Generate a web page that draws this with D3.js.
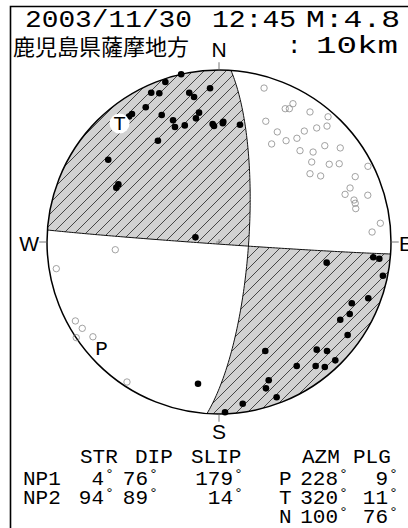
<!DOCTYPE html>
<html><head><meta charset="utf-8">
<script src="https://cdn.jsdelivr.net/npm/d3@7"></script>
<style>html,body{margin:0;padding:0;background:#fff;}svg{display:block;}</style>
</head><body>
<svg id="c" width="408" height="528"></svg>
<script>
// ---------- data ----------
const headDate = "2003/11/30";
const headTime = "12:45";
const headMag = "M:4.8";
const region = "鹿児島県薩摩地方";
const depthText = "10km";
const compass = ["N", "E", "S", "W"];
const compassAz = [0, 90, 180, 270];
// nodal planes: [strike, dip, slip]
const planeNames = ["NP1", "NP2"];
const planes = [[4, 76, 179], [94, 89, 14]];
// principal axes: [azimuth, plunge]
const axisNames = ["P", "T", "N"];
const axes = [[228, 9], [320, 11], [100, 76]];
const paramHeads = ["STR", "DIP", "SLIP"];
const axisHeads = ["AZM", "PLG"];
// polarity observations in projection coordinates (east, north), unit circle
const upPoints = [
  [-0.22,0.975],[-0.312,0.930],[-0.394,0.868],[-0.347,0.865],[-0.173,0.868],[-0.145,0.843],
  [-0.052,0.894],[-0.426,0.783],[-0.506,0.744],[-0.523,0.730],[-0.333,0.738],[-0.116,0.752],
  [-0.134,0.719],[-0.267,0.708],[-0.256,0.669],[-0.199,0.678],[-0.037,0.686],[-0.029,0.674],
  [0.025,0.699],[0.022,0.690],[0.122,0.682],[-0.355,0.589],[-0.644,0.478],[-0.585,0.335],
  [-0.597,0.316],[-0.137,0.027],
  [0.626,-0.120],[0.897,-0.089],[0.932,-0.097],[0.953,-0.196],[0.868,-0.327],[0.772,-0.356],
  [0.760,-0.419],[0.705,-0.452],[0.748,-0.541],[0.568,-0.626],[0.628,-0.634],[0.269,-0.634],
  [0.676,-0.688],[0.452,-0.721],[0.562,-0.721],[0.615,-0.727],[0.289,-0.804],[0.273,-0.851],
  [0.335,-0.903],[0.138,-0.940],[0.035,-0.99],[-0.122,-0.824]
];
const downPoints = [
  [0.262,0.895],[0.430,0.804],[0.385,0.775],[0.409,0.775],[0.529,0.756],[0.634,0.728],
  [0.272,0.702],[0.339,0.640],[0.496,0.645],[0.568,0.663],[0.628,0.674],[0.306,0.570],
  [0.390,0.589],[0.453,0.603],[0.471,0.531],[0.547,0.523],[0.615,0.560],[0.705,0.547],
  [0.539,0.465],[0.641,0.452],[0.699,0.455],[0.866,0.440],[0.529,0.397],[0.591,0.384],
  [0.792,0.380],[0.762,0.314],[0.733,0.277],[0.865,0.272],[0.785,0.244],[0.792,0.225],
  [0.795,0.194],[0.938,0.109],[0.890,0.058],
  [-0.603,-0.045],[-0.946,-0.155],[-0.835,-0.459],[-0.795,-0.502],[-0.830,-0.556],
  [-0.733,-0.551],[-0.535,-0.814]
];

// ---------- layout ----------
const cx = 219, cy = 242, R = 172;
const x = d3.scaleLinear().domain([-1, 1]).range([cx - R, cx + R]);
const y = d3.scaleLinear().domain([-1, 1]).range([cy + R, cy - R]);
const rad = Math.PI / 180;
const mono = "'Liberation Mono','Courier New',monospace";
const sans = "'Liberation Sans',Arial,sans-serif";

const svg = d3.select("#c");
const defs = svg.append("defs");
const pat = defs.append("pattern").attr("id", "hatch").attr("patternUnits", "userSpaceOnUse")
  .attr("width", 11).attr("height", 11);
pat.append("rect").attr("width", 11).attr("height", 11).attr("fill", "#d2d2d2");
pat.append("path").attr("d", "M0,11 L11,0 M-1,1 L1,-1 M10,12 L12,10")
  .attr("stroke", "#222").attr("stroke-width", 0.8);

// ---------- geometry (lower hemisphere, equal area) ----------
function projAzPl(az, pl) {
  const r = Math.SQRT2 * Math.sin((90 - pl) * rad / 2);
  return [r * Math.sin(az * rad), r * Math.cos(az * rad)];
}
function vecProj(v) {
  let [n, e, d] = v;
  if (d < 0) { n = -n; e = -e; d = -d; }
  const pl = Math.asin(Math.min(1, d)) / rad;
  const az = Math.atan2(e, n) / rad;
  return projAzPl(az, pl);
}
function planeVecs(str, dip) {
  const s = [Math.cos(str * rad), Math.sin(str * rad), 0];
  const d = [-Math.cos(dip * rad) * Math.sin(str * rad), Math.cos(dip * rad) * Math.cos(str * rad), Math.sin(dip * rad)];
  return { s, d };
}
const cross = (a, b) => [a[1]*b[2]-a[2]*b[1], a[2]*b[0]-a[0]*b[2], a[0]*b[1]-a[1]*b[0]];
const dot = (a, b) => a[0]*b[0] + a[1]*b[1] + a[2]*b[2];
const pv = planes.map(p => planeVecs(p[0], p[1]));
const normals = pv.map(p => cross(p.s, p.d));
function tCross(i, j) {
  const p = pv[i], n = normals[j];
  let t = Math.atan2(-dot(p.s, n), dot(p.d, n));
  if (t < 0) t += Math.PI;
  return t;
}
const tB = [tCross(0, 1), tCross(1, 0)];
function planePts(i, t0, t1) {
  const p = pv[i], out = [], N = 120;
  for (let k = 0; k <= N; k++) {
    const t = t0 + (t1 - t0) * k / N;
    const v = [0, 1, 2].map(c => Math.cos(t) * p.s[c] + Math.sin(t) * p.d[c]);
    out.push(vecProj(v));
  }
  return out;
}
function arcPts(a0, a1) {
  const out = [], N = 120;
  for (let k = 0; k <= N; k++) { const a = (a0 + (a1 - a0) * k / N) * rad; out.push([Math.sin(a), Math.cos(a)]); }
  return out;
}
const ends = [];
planes.forEach((p, i) => {
  ends.push({ az: ((p[0] % 360) + 360) % 360, plane: i, t: 0 });
  ends.push({ az: ((p[0] + 180) % 360 + 360) % 360, plane: i, t: Math.PI });
});
const a0 = ends[0].az;
ends.sort((a, b) => ((a.az - a0 + 360) % 360) - ((b.az - a0 + 360) % 360));
const quads = ends.map((e, i) => {
  const f = ends[(i + 1) % 4];
  const span = (f.az - e.az + 360) % 360;
  const pts = arcPts(e.az, e.az + span)
    .concat(planePts(f.plane, f.t, tB[f.plane]))
    .concat(planePts(e.plane, tB[e.plane], e.t));
  return pts.map(q => [x(q[0]), y(q[1])]);
});
const tProj = projAzPl(axes[1][0], axes[1][1]);
let k = quads.findIndex(q => d3.polygonContains(q, [x(tProj[0]), y(tProj[1])]));
if (k < 0) k = 0;
const shaded = [quads[k], quads[(k + 2) % 4]];
const line = d3.line().curve(d3.curveLinearClosed);

// ---------- frame ----------
svg.append("path").attr("d", "M10.5,528 L10.5,6.5 L408,6.5").attr("fill", "none")
  .attr("stroke", "#000").attr("stroke-width", 1.6);

// ---------- beach ball ----------
svg.append("circle").attr("cx", x(0)).attr("cy", y(0)).attr("r", x(1) - x(0)).attr("fill", "#fff");
svg.selectAll("path.q").data(shaded).join("path").attr("class", "q")
  .attr("d", d => line(d)).attr("fill", "url(#hatch)").attr("stroke", "none");
planes.forEach((p, i) => {
  svg.append("path").attr("d", d3.line()(planePts(i, 0, Math.PI).map(q => [x(q[0]), y(q[1])])))
    .attr("fill", "none").attr("stroke", "#111").attr("stroke-width", 1);
});
svg.append("circle").attr("cx", x(0)).attr("cy", y(0)).attr("r", x(1) - x(0))
  .attr("fill", "none").attr("stroke", "#000").attr("stroke-width", 1.5);
// centre cross
svg.append("path").attr("d", `M${x(0)-3},${y(0)} h6 M${x(0)},${y(0)-3} v6`)
  .attr("stroke", "#777").attr("stroke-width", 0.8);
// compass ticks and labels
compassAz.forEach((az, i) => {
  const s = Math.sin(az * rad), c = Math.cos(az * rad);
  svg.append("line").attr("x1", x(s)).attr("y1", y(c)).attr("x2", x(s * 1.045)).attr("y2", y(c * 1.045))
    .attr("stroke", "#666").attr("stroke-width", 0.9);
});
const lab = [[0, x(0), 57, "middle"], [1, x(1) + 8, 251, "start"], [2, x(0), 439, "middle"], [3, x(-1) - 8, 251, "end"]];
lab.forEach(l => svg.append("text").attr("x", l[1]).attr("y", l[2]).attr("text-anchor", l[3])
  .attr("font-family", sans).attr("font-size", 21).text(compass[l[0]]));

// polarity points
svg.selectAll("circle.dn").data(downPoints).join("circle").attr("class", "dn")
  .attr("cx", d => x(d[0])).attr("cy", d => y(d[1])).attr("r", 3.2)
  .attr("fill", "none").attr("stroke", "#8a8a8a").attr("stroke-width", 0.8);
svg.selectAll("circle.up").data(upPoints).join("circle").attr("class", "up")
  .attr("cx", d => x(d[0])).attr("cy", d => y(d[1])).attr("r", 3.3).attr("fill", "#000");

// P and T labels
[0, 1].forEach(i => {
  const q = projAzPl(axes[i][0], axes[i][1]);
  svg.append("circle").attr("cx", x(q[0])).attr("cy", y(q[1])).attr("r", 10).attr("fill", "#fff");
  svg.append("text").attr("x", x(q[0])).attr("y", y(q[1]) + 7).attr("text-anchor", "middle")
    .attr("font-family", mono).attr("font-size", 21).text(axisNames[i]);
});

// ---------- header text ----------
const hdr = [[headDate, 25, 167], [headTime, 212, 84], [headMag, 306, 94]];
hdr.forEach(h => svg.append("text").attr("x", h[1]).attr("y", 27).attr("font-family", mono)
  .attr("font-size", 24).attr("textLength", h[2]).attr("lengthAdjust", "spacingAndGlyphs").text(h[0]));
svg.append("text").attr("x", 13).attr("y", 55).attr("font-family", "'Noto Sans CJK JP',sans-serif")
  .attr("font-size", 22).text(region);
svg.append("text").attr("x", 287).attr("y", 53).attr("font-family", mono).attr("font-size", 24).text(":");
svg.append("text").attr("x", 316).attr("y", 53).attr("font-family", mono).attr("font-size", 24)
  .attr("textLength", 82).attr("lengthAdjust", "spacingAndGlyphs").text(depthText);

// ---------- parameter table ----------
const fs = 21;
const rowY = [485, 504, 523];
const headY = 463;
const colEnd = [104, 148, 233];
const colHeadX = [80, 135, 191];
const axEnd = [338, 388];
const axHeadX = [302, 353];
function txt(xp, yp, s, anchor) {
  return svg.append("text").attr("x", xp).attr("y", yp).attr("font-family", mono)
    .attr("font-size", fs).attr("text-anchor", anchor || "start").text(s);
}
function deg(xp, yp) {
  svg.append("text").attr("x", xp + 1).attr("y", yp - 6).attr("font-family", mono)
    .attr("font-size", 15).text("°");
}
paramHeads.forEach((h, i) => txt(colHeadX[i], headY, h));
axisHeads.forEach((h, i) => txt(axHeadX[i], headY, h));
planes.forEach((p, r) => {
  txt(23, rowY[r], planeNames[r]);
  p.forEach((v, c) => { txt(colEnd[c], rowY[r], String(v), "end"); deg(colEnd[c], rowY[r]); });
});
axes.forEach((a, r) => {
  txt(279, rowY[r], axisNames[r]);
  a.forEach((v, c) => { txt(axEnd[c], rowY[r], String(v), "end"); deg(axEnd[c], rowY[r]); });
});
</script>
</body></html>
